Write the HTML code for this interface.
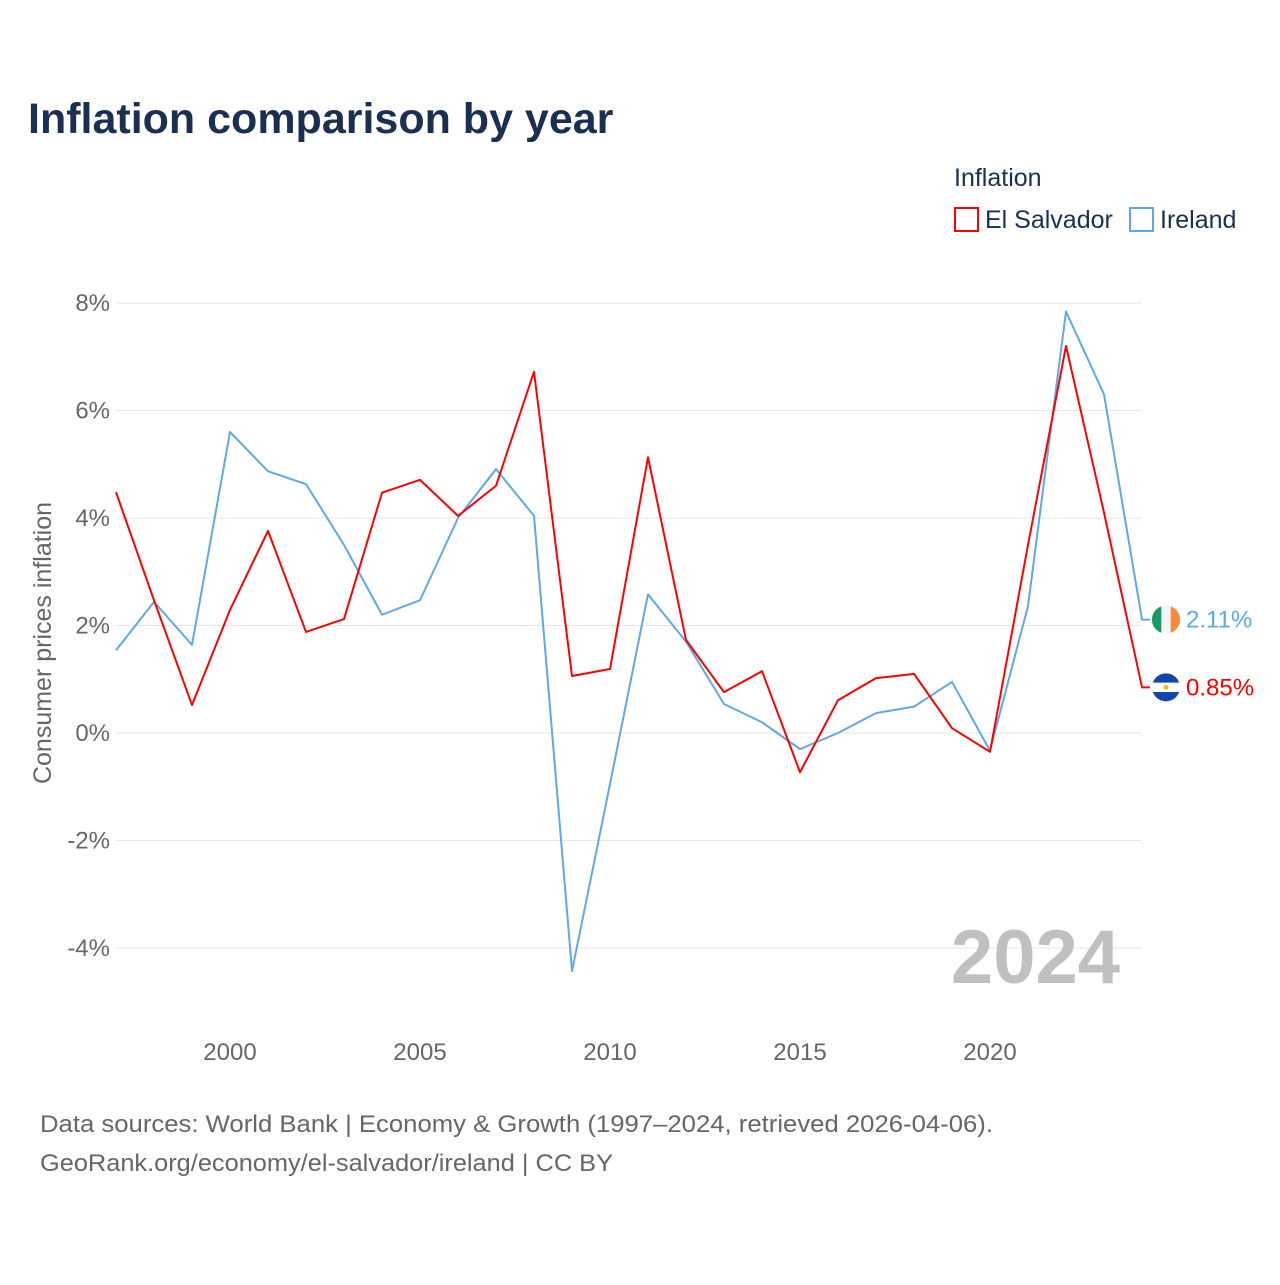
<!DOCTYPE html>
<html><head><meta charset="utf-8"><style>
body{margin:0;background:#fff;font-family:"Liberation Sans",sans-serif}
</style></head><body>
<svg width="1280" height="1280" xmlns="http://www.w3.org/2000/svg" font-family="Liberation Sans, sans-serif">
<text x="28" y="133" font-size="43" font-weight="bold" fill="#1b3050">Inflation comparison by year</text>
<g>
<text x="954" y="186" font-size="25" fill="#1b3050">Inflation</text>
<g><rect x="955" y="208" width="23" height="23" fill="none" stroke="#ff0000" stroke-width="2"/><text x="985" y="228" font-size="25" fill="#1b3050">El Salvador</text></g>
<g><rect x="1130" y="208" width="23" height="23" fill="none" stroke="#5fa8e8" stroke-width="2"/><text x="1160" y="228" font-size="25" fill="#1b3050">Ireland</text></g>
</g>
<g id="grid"></g>
<g id="yt"></g>
<g id="xt"></g>
<text transform="translate(51,643) rotate(-90)" text-anchor="middle" font-size="25" fill="#666">Consumer prices inflation</text>
<text x="1120" y="983" text-anchor="end" font-size="76" font-weight="bold" fill="#c0c0c0">2024</text>
<g id="series"></g>
<text x="40" y="1132" font-size="24" fill="#666" textLength="953" lengthAdjust="spacingAndGlyphs">Data sources: World Bank | Economy &amp; Growth (1997–2024, retrieved 2026-04-06).</text>
<text x="40" y="1171" font-size="24" fill="#666" textLength="573" lengthAdjust="spacingAndGlyphs">GeoRank.org/economy/el-salvador/ireland | CC BY</text>
</svg>
<script>
const years=[1997,1998,1999,2000,2001,2002,2003,2004,2005,2006,2007,2008,2009,2010,2011,2012,2013,2014,2015,2016,2017,2018,2019,2020,2021,2022,2023,2024];
const elSalvador=[4.48,2.47,0.52,2.29,3.76,1.88,2.12,4.47,4.71,4.04,4.60,6.72,1.06,1.19,5.13,1.73,0.76,1.15,-0.73,0.61,1.02,1.10,0.09,-0.35,3.5,7.2,4.1,0.85];
const ireland=[1.54,2.44,1.64,5.6,4.87,4.63,3.5,2.2,2.47,4.0,4.91,4.04,-4.43,-0.95,2.58,1.7,0.54,0.2,-0.3,0.0,0.37,0.49,0.95,-0.33,2.36,7.84,6.3,2.11];
const yTicks=[-4,-2,0,2,4,6,8];
const xTicks=[2000,2005,2010,2015,2020];
const NS="http://www.w3.org/2000/svg";
const X=y=>116+(y-1997)*38, Y=v=>733-v*53.75;
function mk(t,a,p){const e=document.createElementNS(NS,t);for(const k in a)e.setAttribute(k,a[k]);p.appendChild(e);return e;}
const grid=document.getElementById('grid'),yt=document.getElementById('yt'),xt=document.getElementById('xt'),ser=document.getElementById('series');
yTicks.forEach(v=>{
 const l=mk('line',{x1:116,x2:1142,y1:Y(v),y2:Y(v),stroke:'#e6e6e6','stroke-width':1},grid);
 
 
 const t=mk('text',{x:110,y:Y(v)+8,'text-anchor':'end','font-size':24,fill:'#666'},yt);
 t.textContent=v+'%';
 
 
});
xTicks.forEach(v=>{
 const t=mk('text',{x:X(v),y:1060,'text-anchor':'middle','font-size':24,fill:'#666'},xt);
 t.textContent=v;
 
 
});
function line(vals,color,name,flag){
 let d=vals.map((v,i)=>(i?'L':'M')+X(years[i])+','+Y(vals[i])).join(' ');
 const last=vals[vals.length-1];
 d+=' L'+(X(2024)+8)+','+Y(last);
 const p=mk('path',{d:d,fill:'none',stroke:color,'stroke-width':2,'stroke-linejoin':'round'},ser);
 
 
 const g=mk('g',{},ser);
 
 
 const cy=Y(last),cx=1166;
 if(flag==='ie'){
  mk('circle',{cx:cx,cy:cy,r:14,fill:'#f5f5f5'},g);
  mk('path',{d:`M${cx-4.7},${cy-13.2} A14,14 0 0 0 ${cx-4.7},${cy+13.2} Z`,fill:'#169b62'},g);
  mk('path',{d:`M${cx+4.7},${cy-13.2} A14,14 0 0 1 ${cx+4.7},${cy+13.2} Z`,fill:'#ff883e'},g);
 } else {
  mk('circle',{cx:cx,cy:cy,r:14,fill:'#0f47af'},g);
  mk('rect',{x:cx-14,y:cy-4.7,width:28,height:9.4,fill:'#fff'},g);
  mk('circle',{cx:cx,cy:cy,r:2.5,fill:'#e8c020'},g);
 }
 const t=mk('text',{x:1186,y:cy+8,'font-size':24,fill:color},g);
 t.textContent=last.toFixed(2)+'%';
}
line(ireland,'#5fa8e8','ireland','ie');
line(elSalvador,'#ff0000','el-salvador','sv');
</script>
</body></html>
